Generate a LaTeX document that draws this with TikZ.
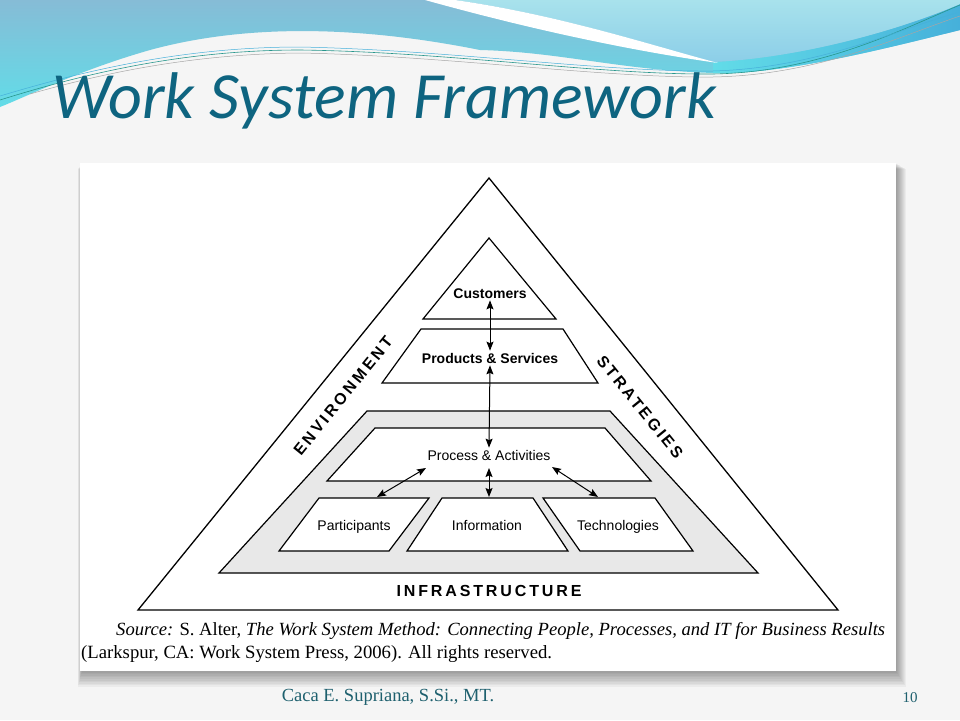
\documentclass[tikz,border=0pt]{standalone}
\usepackage{fontspec}
\usepackage{xcolor}
\usetikzlibrary{arrows.meta}
\setmainfont{Liberation Sans}
\newfontfamily\titlefont{Carlito}
\newfontfamily\capfont{Liberation Serif}
\newfontfamily\spacedfont[LetterSpace=18]{Liberation Sans}

\definecolor{slidebg}{RGB}{245,245,245}
\definecolor{wavetop}{RGB}{134,188,214}
\definecolor{wavebot}{RGB}{98,220,232}
\definecolor{wavelight}{RGB}{168,226,236}
\definecolor{wavemid}{RGB}{140,206,232}
\definecolor{waveblue}{RGB}{70,176,218}
\definecolor{waveline}{RGB}{40,150,140}
\definecolor{titleblue}{RGB}{14,100,128}
\definecolor{footteal}{RGB}{30,96,110}
\definecolor{infragray}{RGB}{232,232,232}

\begin{document}
\begin{tikzpicture}[x=1pt, y=-1pt, inner sep=2pt, >={Stealth[length=9pt,width=7pt,inset=1.5pt]}]
		\tikzstyle{every node}=[align=center]
		\tikzstyle{layer}=[draw, line width=1.2pt, fill=white]
		\tikzstyle{link}=[line width=1pt, <->]
		\tikzstyle{box text}=[anchor=base, font=\fontsize{14}{16}\selectfont]
		\tikzstyle{bold text}=[anchor=base, font=\bfseries\fontsize{14}{16}\selectfont]
		\tikzstyle{side text}=[anchor=base, font=\spacedfont\bfseries\fontsize{16}{18}\selectfont]

		\useasboundingbox (0,0) rectangle (960,720);
		\fill[slidebg] (0,0) rectangle (960,720);

		% header waves
		\shade[top color=wavetop, bottom color=wavebot] (0,0) -- (960,0) -- (960,30) .. controls (880,50) and (780,75) .. (713,73) .. controls (620,70) and (560,52) .. (480,50) .. controls (380,30) and (260,20) .. (150,50) .. controls (80,70) and (30,95) .. (0,107) -- cycle;
		\shade[left color=wavebot, right color=waveblue] (713,62) .. controls (800,58) and (900,30) .. (960,4) -- (960,30) .. controls (880,50) and (780,75) .. (713,73) -- cycle;
		\shade[top color=wavelight, bottom color=wavemid] (455,0) -- (960,0) -- (960,4) .. controls (900,30) and (800,58) .. (713,62) .. controls (650,45) and (560,15) .. (455,0) -- cycle;
		\fill[white] (425,0) -- (455,0) .. controls (560,15) and (650,45) .. (718,63) .. controls (640,52) and (540,32) .. (425,0) -- cycle;
		\draw[waveline, line width=0.6pt] (0,100) .. controls (80,75) and (180,50) .. (300,50) .. controls (450,52) and (600,75) .. (713,74) .. controls (820,72) and (900,30) .. (960,5);
		\draw[waveblue, line width=0.5pt] (0,96) .. controls (80,72) and (180,47) .. (300,47) .. controls (450,50) and (600,72) .. (713,71) .. controls (820,68) and (900,28) .. (960,12);
		\draw[gray!70, line width=0.5pt] (30,94) .. controls (100,74) and (190,54) .. (300,53) .. controls (450,56) and (600,78) .. (713,77) .. controls (820,75) and (900,36) .. (960,16);

		\node[anchor=base west, inner sep=0, text=titleblue, font=\titlefont\itshape\fontsize{66}{72}\selectfont] (title) at (52,118) {Work System Framework};

		% panel with shadow
		\foreach \k in {1,...,10}
			\fill[black, opacity=0.04] (82-0.4*\k, 163+0.6*\k) rectangle (896+\k, 671+1.6*\k);
		\fill[white] (80,163) rectangle (896,671);

		% framework
		\draw[line width=1.3pt, line join=miter] (489,178) -- (838,610) -- (138,610) -- cycle;
		\draw[layer] (489,238) -- (556,319) -- (423,319) -- cycle;
		\draw[layer] (421,329) -- (563,329) -- (598,383) -- (382,383) -- cycle;
		\draw[layer, fill=infragray] (367,411) -- (610,411) -- (758,573) -- (219,573) -- cycle;
		\draw[layer] (375,428) -- (605,428) -- (651,481) -- (327,481) -- cycle;
		\draw[layer] (319,498) -- (429,498) -- (389,551) -- (279,551) -- cycle;
		\draw[layer] (442,498) -- (533,498) -- (568,551) -- (407,551) -- cycle;
		\draw[layer] (543,498) -- (655,498) -- (693,551) -- (580,551) -- cycle;

		\node[bold text] (cust) at (490,298) {Customers};
		\node[bold text] (prod) at (490,363) {Products \& Services};
		\node[box text] (proc) at (489,460) {Process \& Activities};
		\node[box text] (part) at (354,530) {Participants};
		\node[box text] (info) at (487,530) {Information};
		\node[box text] (tech) at (618,530) {Technologies};

		\node[side text] (infra) at (489,596) {INFRASTRUCTURE};
		\node[side text, anchor=center, rotate=51] (env) at (343,396) {ENVIRONMENT};
		\node[side text, anchor=center, rotate=-51] (strat) at (640,407) {STRATEGIES};

		\coordinate (partTop) at (377,497);
		\coordinate (infoTop) at (489,497);
		\coordinate (techTop) at (598,497);
		\coordinate (procLeft) at (426,468);
		\coordinate (procMid) at (489,468);
		\coordinate (procRight) at (552,467);

		\draw[link] (cust.south) -- (prod.north);
		\draw[link] (prod.south) -- (proc.north);
		\draw[link] (procMid) -- (infoTop);
		\draw[link] (procLeft) -- (partTop);
		\draw[link] (procRight) -- (techTop);

		% source line
		\node[anchor=base west, inner sep=0, font=\capfont\fontsize{18.6}{22}\selectfont] (source) at (116,635) {\textit{Source:} S. Alter, \textit{The Work System Method: Connecting People, Processes, and IT for Business Results}};
		\node[anchor=base west, inner sep=0, font=\capfont\fontsize{18.7}{22}\selectfont] (rights) at (81,658) {(Larkspur, CA: Work System Press, 2006). All rights reserved.};

		% footer
		\node[text=footteal, font=\capfont\fontsize{18.5}{20}\selectfont] (author) at (388,697) {Caca E. Supriana, S.Si., MT.};
		\node[text=footteal, font=\capfont\fontsize{15}{18}\selectfont] (page) at (910,698) {10};
\end{tikzpicture}
\end{document}
